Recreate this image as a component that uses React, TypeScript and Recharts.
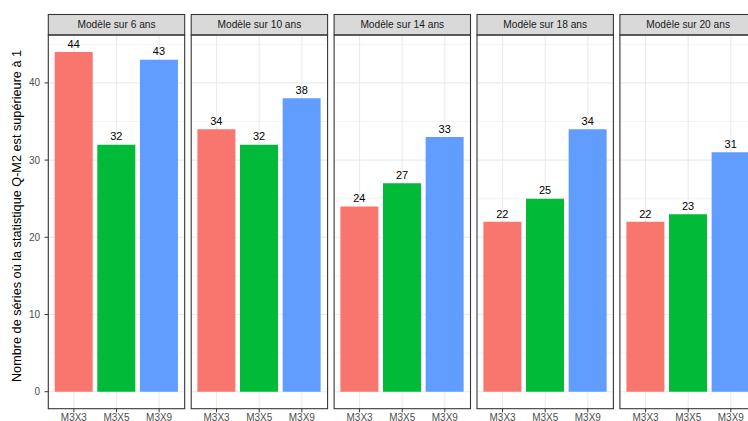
import React from "react";
import { BarChart, Bar, Cell, XAxis, YAxis, CartesianGrid, LabelList } from "recharts";

const facets = ["Modèle sur 6 ans", "Modèle sur 10 ans", "Modèle sur 14 ans", "Modèle sur 18 ans", "Modèle sur 20 ans"];
const categories = ["M3X3", "M3X5", "M3X9"];
const m3x3 = [44, 34, 24, 22, 22];
const m3x5 = [32, 32, 27, 25, 23];
const m3x9 = [43, 38, 33, 34, 31];
const colors = ["#F8766D", "#00BA38", "#619CFF"];
const yTicks = [0, 10, 20, 30, 40];
const yMinor = [5, 15, 25, 35, 45];
const yTitle = "Nombre de séries où la statistique Q-M2 est supérieure à 1";

const W = 748;
const H = 421;
const FONT = "'Liberation Sans', Arial, sans-serif";
const PANEL_W = 136.4;
const PANEL_STEP = 142.9;
const PANEL_X0 = 48.3;
const PANEL_TOP = 35;
const PANEL_BOTTOM = 408.7;
const STRIP_TOP = 14.5;
const DOMAIN: [number, number] = [-2.2, 46.2];

function facetData(i: number) {
  const vals = [m3x3[i], m3x5[i], m3x9[i]];
  return categories.map((c, k) => ({ cat: c, value: vals[k] }));
}

function Facet({ index }: { index: number }) {
  const first = index === 0;
  const panelLeft = PANEL_X0 + index * PANEL_STEP;
  const chartLeft = first ? 0 : panelLeft;
  const chartWidth = first ? PANEL_X0 + PANEL_W : PANEL_W;
  return (
    <div style={{ position: "absolute", left: chartLeft, top: 0 }}>
      <BarChart
        width={chartWidth}
        height={H}
        data={facetData(index)}
        margin={{ top: PANEL_TOP, right: 0, bottom: 0, left: 0 }}
        barCategoryGap="5%"
      >
        <CartesianGrid horizontalValues={yMinor} vertical={false} stroke="#EEEEEE" strokeWidth={0.7} />
        <CartesianGrid horizontalValues={yTicks} stroke="#EBEBEB" strokeWidth={1.1} />
        <XAxis
          dataKey="cat"
          height={H - PANEL_BOTTOM}
          padding={{ left: 4.25, right: 4.25 }}
          axisLine={false}
          tickSize={3.7}
          tickMargin={2}
          tickLine={{ stroke: "#333333" }}
          tick={{ fill: "#4D4D4D", fontSize: 10, fontFamily: FONT }}
          interval={0}
        />
        <YAxis
          hide={!first}
          width={PANEL_X0}
          domain={DOMAIN}
          ticks={yTicks}
          type="number"
          allowDataOverflow
          axisLine={false}
          tickSize={3.7}
          tickMargin={4.5}
          tickLine={{ stroke: "#333333" }}
          tick={{ fill: "#4D4D4D", fontSize: 10, fontFamily: FONT }}
        />
        <Bar dataKey="value" isAnimationActive={false}>
          {categories.map((c, k) => (
            <Cell key={c} fill={colors[k]} />
          ))}
          <LabelList dataKey="value" position="top" offset={4.3} fill="#000000" fontSize={11} fontFamily={FONT} />
        </Bar>
      </BarChart>
    </div>
  );
}

// strip headers and panel borders, drawn over the facet charts
function Frames() {
  return (
    <svg width={W} height={H} style={{ position: "absolute", left: 0, top: 0, pointerEvents: "none" }}>
      {facets.map((f, i) => {
        const x = PANEL_X0 + i * PANEL_STEP;
        return (
          <g key={f}>
            <rect
              x={x}
              y={STRIP_TOP}
              width={PANEL_W}
              height={PANEL_TOP - STRIP_TOP}
              fill="#D9D9D9"
              stroke="#333333"
              strokeWidth={1.07}
            />
            <text
              x={x + PANEL_W / 2}
              y={(STRIP_TOP + PANEL_TOP) / 2}
              textAnchor="middle"
              dominantBaseline="central"
              fill="#1A1A1A"
              fontSize={10.2}
              fontFamily={FONT}
            >
              {f}
            </text>
            <rect
              x={x}
              y={PANEL_TOP}
              width={PANEL_W}
              height={PANEL_BOTTOM - PANEL_TOP}
              fill="none"
              stroke="#333333"
              strokeWidth={1.07}
            />
          </g>
        );
      })}
      <text
        transform={`translate(17, 216) rotate(-90)`}
        textAnchor="middle"
        dominantBaseline="central"
        fontSize={12.7}
        fontFamily={FONT}
        fill="#000000"
      >
        {yTitle}
      </text>
    </svg>
  );
}

export default function App() {
  return (
    <div
      style={{
        position: "fixed",
        left: 0,
        top: 0,
        width: W,
        height: H,
        overflow: "hidden",
        background: "#FFFFFF",
        fontFamily: FONT,
      }}
    >
      {facets.map((f, i) => (
        <Facet key={f} index={i} />
      ))}
      <Frames />
    </div>
  );
}
